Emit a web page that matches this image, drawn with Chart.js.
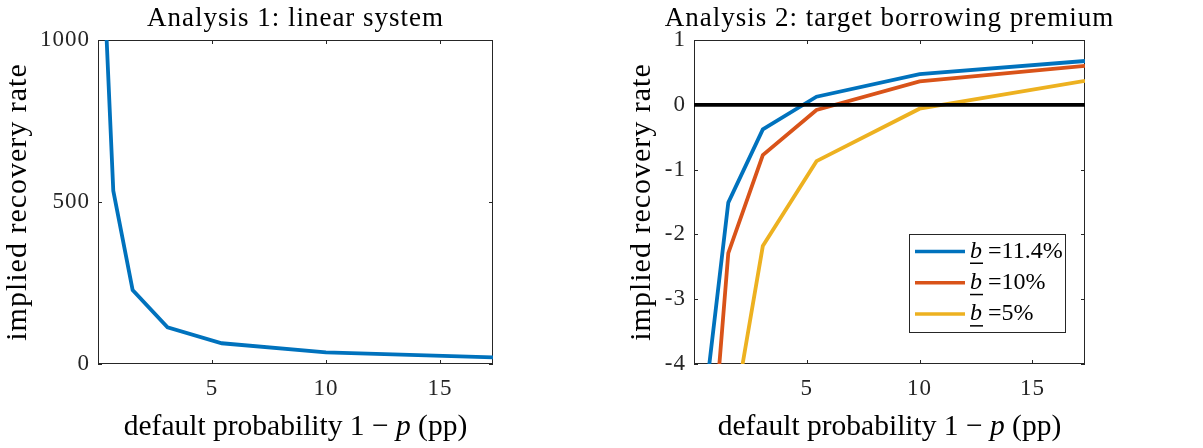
<!DOCTYPE html>
<html>
<head>
<meta charset="utf-8">
<script src="https://cdn.jsdelivr.net/npm/chart.js@4.4.1/dist/chart.umd.min.js"></script>
<style>
  body { margin: 0; background: #fff; }
  canvas { position: absolute; top: 0; }
  #left { left: 0; }
  #right { left: 600px; }
</style>
</head>
<body>
<canvas id="left" width="600" height="448"></canvas>
<canvas id="right" width="603" height="448"></canvas>
<script>
// default probability 1 - p (pp)
const defaultProb = [0.33, 0.67, 1.52, 3.05, 5.43, 10, 17.33];

// Analysis 1: linear system
const rateLinear = [1080, 535, 228, 113, 64, 36, 20.7];

// Analysis 2: target borrowing premium
const rateB114 = [-7, -4.03, -1.51, -0.38, 0.125, 0.475, 0.676];
const rateB10 = [-9, -5.97, -2.29, -0.775, -0.08, 0.36, 0.6];
const rateB5 = [-12, -8, -5.29, -2.18, -0.87, -0.06, 0.37];
const bLabels = ["11.4%", "10%", "5%"];

const xRange = [0, 17.33];
const xTicks = [5, 10, 15];
const yTicksLeft = [0, 500, 1000];
const yTicksRight = [-4, -3, -2, -1, 0, 1];

const SERIF = '"Liberation Serif", "DejaVu Serif", serif';
const INK = "#262626";
const colors = ["#0072BD", "#D95319", "#EDB120"];
const LINE_W = 3.8;

const toPoints = (vals) => defaultProb.map((x, i) => ({ x: x, y: vals[i] }));

// matlab style box with inward ticks, titles, x title with italic p, optional legend
const matlabAxes = {
  id: "matlabAxes",
  beforeDraw(chart) {
    // computer modern is wider than times, open the letters up a little
    chart.ctx.letterSpacing = "1px";
  },
  beforeDatasetsDraw(chart) {
    const { ctx, chartArea: a, scales } = chart;
    ctx.letterSpacing = "0px";
    ctx.save();
    ctx.strokeStyle = INK;
    ctx.lineWidth = 1;
    ctx.strokeRect(a.left + 0.5, a.top + 0.5, a.width - 1, a.height - 1);
    ctx.beginPath();
    scales.x.ticks.forEach((t) => {
      const px = Math.round(scales.x.getPixelForValue(t.value)) + 0.5;
      ctx.moveTo(px, a.bottom);
      ctx.lineTo(px, a.bottom - 4);
      ctx.moveTo(px, a.top);
      ctx.lineTo(px, a.top + 4);
    });
    scales.y.ticks.forEach((t) => {
      const py = Math.round(scales.y.getPixelForValue(t.value)) + 0.5;
      ctx.moveTo(a.left, py);
      ctx.lineTo(a.left + 4, py);
      ctx.moveTo(a.right, py);
      ctx.lineTo(a.right - 4, py);
    });
    ctx.stroke();
    ctx.restore();
  },
  afterDraw(chart) {
    const { ctx, chartArea: a } = chart;
    const opts = chart.options.plugins.matlabAxes;
    ctx.save();
    ctx.fillStyle = "#000";

    // title, centred on the axes even when wider than them
    ctx.letterSpacing = "1px";
    ctx.font = "27px " + SERIF;
    ctx.textAlign = "center";
    ctx.textBaseline = "alphabetic";
    ctx.fillText(opts.title, (a.left + a.right) / 2, a.top - 14.5);
    ctx.letterSpacing = "0px";
    ctx.textAlign = "left";

    // x title: default probability 1 − p (pp)
    const up = "29.5px " + SERIF;
    const it = "italic 29.5px " + SERIF;
    const parts = [["default probability 1 \u2212 ", up], ["p", it], [" (pp)", up]];
    let total = 0;
    parts.forEach((p) => { ctx.font = p[1]; total += ctx.measureText(p[0]).width; });
    let px = (a.left + a.right) / 2 - total / 2;
    parts.forEach((p) => {
      ctx.font = p[1];
      ctx.fillText(p[0], px, a.bottom + 71);
      px += ctx.measureText(p[0]).width;
    });

    if (opts.legend) {
      const w = 156, h = 98;
      const bx = a.right - 20 - w, by = a.bottom - 32 - h;
      ctx.fillStyle = "#fff";
      ctx.fillRect(bx, by, w, h);
      ctx.strokeStyle = INK;
      ctx.lineWidth = 1;
      ctx.strokeRect(bx + 0.5, by + 0.5, w, h);
      chart.data.datasets.filter((d) => d.label).forEach((d, i) => {
        const cy = by + 17.5 + i * 31.3;
        ctx.strokeStyle = d.borderColor;
        ctx.lineWidth = 3.5;
        ctx.beginPath();
        ctx.moveTo(bx + 6, cy);
        ctx.lineTo(bx + 56, cy);
        ctx.stroke();
        ctx.fillStyle = "#000";
        ctx.textBaseline = "middle";
        ctx.font = "italic 24px " + SERIF;
        const bw = ctx.measureText("b").width;
        ctx.fillText("b", bx + 61, cy);
        ctx.fillRect(bx + 61, cy + 11, bw + 1, 1.5);
        ctx.font = "24px " + SERIF;
        ctx.fillText(" =" + d.label, bx + 61 + bw, cy);
      });
    }
    ctx.restore();
  },
};

function makeOptions(title, yMin, yMax, yTicks, yWidth, yTitlePad, padRight, legend) {
  return {
    responsive: false,
    animation: false,
    layout: { padding: { left: 0, right: padRight, top: 40, bottom: 0 } },
    elements: { point: { radius: 0 }, line: { tension: 0 } },
    scales: {
      x: {
        type: "linear",
        min: xRange[0],
        max: xRange[1],
        afterBuildTicks: (s) => { s.ticks = xTicks.map((v) => ({ value: v })); },
        afterFit: (s) => { s.height = 84; },
        grid: { display: false, drawTicks: false },
        border: { display: false },
        ticks: { color: INK, font: { family: SERIF, size: 23 }, padding: 11, maxRotation: 0, autoSkip: false },
      },
      y: {
        type: "linear",
        min: yMin,
        max: yMax,
        afterBuildTicks: (s) => { s.ticks = yTicks.map((v) => ({ value: v })); },
        afterFit: (s) => { s.width = yWidth; },
        grid: { display: false, drawTicks: false },
        border: { display: false },
        ticks: { color: INK, font: { family: SERIF, size: 23 }, padding: 8, callback: (v) => String(v) },
        title: { display: true, text: "implied recovery rate", color: "#000", font: { family: SERIF, size: 30 }, padding: { top: yTitlePad, bottom: 0 } },
      },
    },
    plugins: {
      legend: { display: false },
      tooltip: { enabled: false },
      title: { display: false },
      matlabAxes: { legend: legend, title: title },
    },
  };
}

new Chart(document.getElementById("left"), {
  type: "line",
  data: {
    datasets: [
      { data: toPoints(rateLinear), borderColor: colors[0], borderWidth: LINE_W },
    ],
  },
  options: makeOptions("Analysis 1: linear system", 0, 1000, yTicksLeft, 98, 0, 107, false),
  plugins: [matlabAxes],
});

new Chart(document.getElementById("right"), {
  type: "line",
  data: {
    datasets: [
      { data: xRange.map((x) => ({ x: x, y: 0 })), borderColor: "#000", borderWidth: LINE_W },
      { label: bLabels[0], data: toPoints(rateB114), borderColor: colors[0], borderWidth: LINE_W },
      { label: bLabels[1], data: toPoints(rateB10), borderColor: colors[1], borderWidth: LINE_W },
      { label: bLabels[2], data: toPoints(rateB5), borderColor: colors[2], borderWidth: LINE_W },
    ],
  },
  options: makeOptions("Analysis 2: target borrowing premium", -4, 1, yTicksRight, 94, 24, 118, true),
  plugins: [matlabAxes],
});
</script>
</body>
</html>
